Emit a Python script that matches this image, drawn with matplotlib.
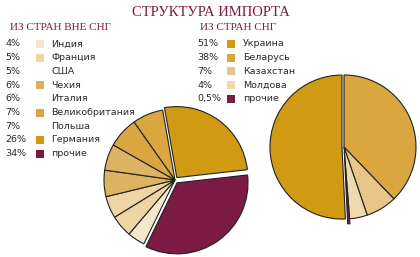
import matplotlib
matplotlib.use("Agg")
import matplotlib.pyplot as plt

# Data
title = "СТРУКТУРА ИМПОРТА"
left_title = "ИЗ СТРАН ВНЕ СНГ"
right_title = "ИЗ СТРАН СНГ"

left_labels = ["Индия", "Франция", "США", "Чехия", "Италия", "Великобритания", "Польша", "Германия", "прочие"]
left_pct_text = ["4%", "5%", "5%", "6%", "6%", "7%", "7%", "26%", "34%"]
left_values = [4, 5, 5, 6, 6, 7, 7, 26, 34]
left_show_square = [True, True, False, True, False, True, False, True, True]

right_labels = ["Украина", "Беларусь", "Казахстан", "Молдова", "прочие"]
right_pct_text = ["51%", "38%", "7%", "4%", "0,5%"]
right_values = [51, 38, 7, 4, 0.5]

GOLD = "#D09A12"
GOLD2 = "#D9A640"
GOLD3 = "#DDB262"
GOLD3R = "#E8C687"
LIGHT = "#EFD5A6"
LIGHTR = "#F0D9AE"
PALE = "#F5E6CC"
PURPLE = "#7B1A42"

left_colors = [PALE, LIGHT, LIGHT, GOLD3, GOLD3, GOLD2, GOLD2, GOLD, PURPLE]
right_colors = [GOLD, GOLD2, GOLD3R, LIGHTR, PURPLE]

W, H = 420, 257
fig = plt.figure(figsize=(W / 100, H / 100), dpi=100)
ax = fig.add_axes([0, 0, 1, 1])
ax.set_xlim(0, W)
ax.set_ylim(0, H)
ax.set_aspect("equal")
ax.axis("off")

def Y(py):
    return H - py

TXT = "#2a2a2a"

# Title
ax.text(211, Y(12), title, ha="center", va="center", fontsize=10.5,
        family="Liberation Serif", color=PURPLE)
ax.text(10, Y(27), left_title, ha="left", va="center", fontsize=8,
        family="Liberation Serif", color=PURPLE)
ax.text(200, Y(27), right_title, ha="left", va="center", fontsize=8,
        family="Liberation Serif", color=PURPLE)

# Left legend
row0, dy = 44, 13.7
for i, (p, lab, col, sq) in enumerate(zip(left_pct_text, left_labels, left_colors, left_show_square)):
    yy = Y(row0 + i * dy)
    ax.text(5, yy, p, ha="left", va="center", fontsize=6.8, color=TXT)
    if sq:
        ax.add_patch(plt.Rectangle((36, yy - 4), 8, 8, color=col, lw=0))
    ax.text(51, yy, lab, ha="left", va="center", fontsize=6.8, color=TXT)

# Right legend
for i, (p, lab, col) in enumerate(zip(right_pct_text, right_labels, right_colors)):
    yy = Y(row0 + i * dy)
    ax.text(197, yy, p, ha="left", va="center", fontsize=6.8, color=TXT)
    ax.add_patch(plt.Rectangle((227, yy - 4), 8, 8, color=col, lw=0))
    ax.text(243, yy, lab, ha="left", va="center", fontsize=6.8, color=TXT)

# Left pie: clockwise from ~100 deg: Германия, прочие, Индия, Франция, США, Чехия, Италия, Великобритания, Польша
order_l = [7, 8, 0, 1, 2, 3, 4, 5, 6]
lv = [left_values[i] for i in order_l]
lc = [left_colors[i] for i in order_l]
lex = [3, 3.5, 0, 0, 0, 0, 0, 0, 0]  # offsets in pixels (data units)
ax.pie(lv, colors=lc, explode=lex, startangle=100, counterclock=False,
       center=(175, Y(180)), radius=71,
       wedgeprops=dict(edgecolor="#222222", linewidth=0.8))

# Right pie: clockwise from 90: Беларусь, Казахстан, Молдова, прочие, Украина
order_r = [1, 2, 3, 4, 0]
rv = [right_values[i] for i in order_r]
rc = [right_colors[i] for i in order_r]
rex = [0, 0, 0, 5, 2]
ax.pie(rv, colors=rc, explode=rex, startangle=90, counterclock=False,
       center=(344, Y(147)), radius=72,
       wedgeprops=dict(edgecolor="#222222", linewidth=0.8))

ax.set_xlim(0, W)
ax.set_ylim(0, H)
fig.savefig("out.png", dpi=100)
